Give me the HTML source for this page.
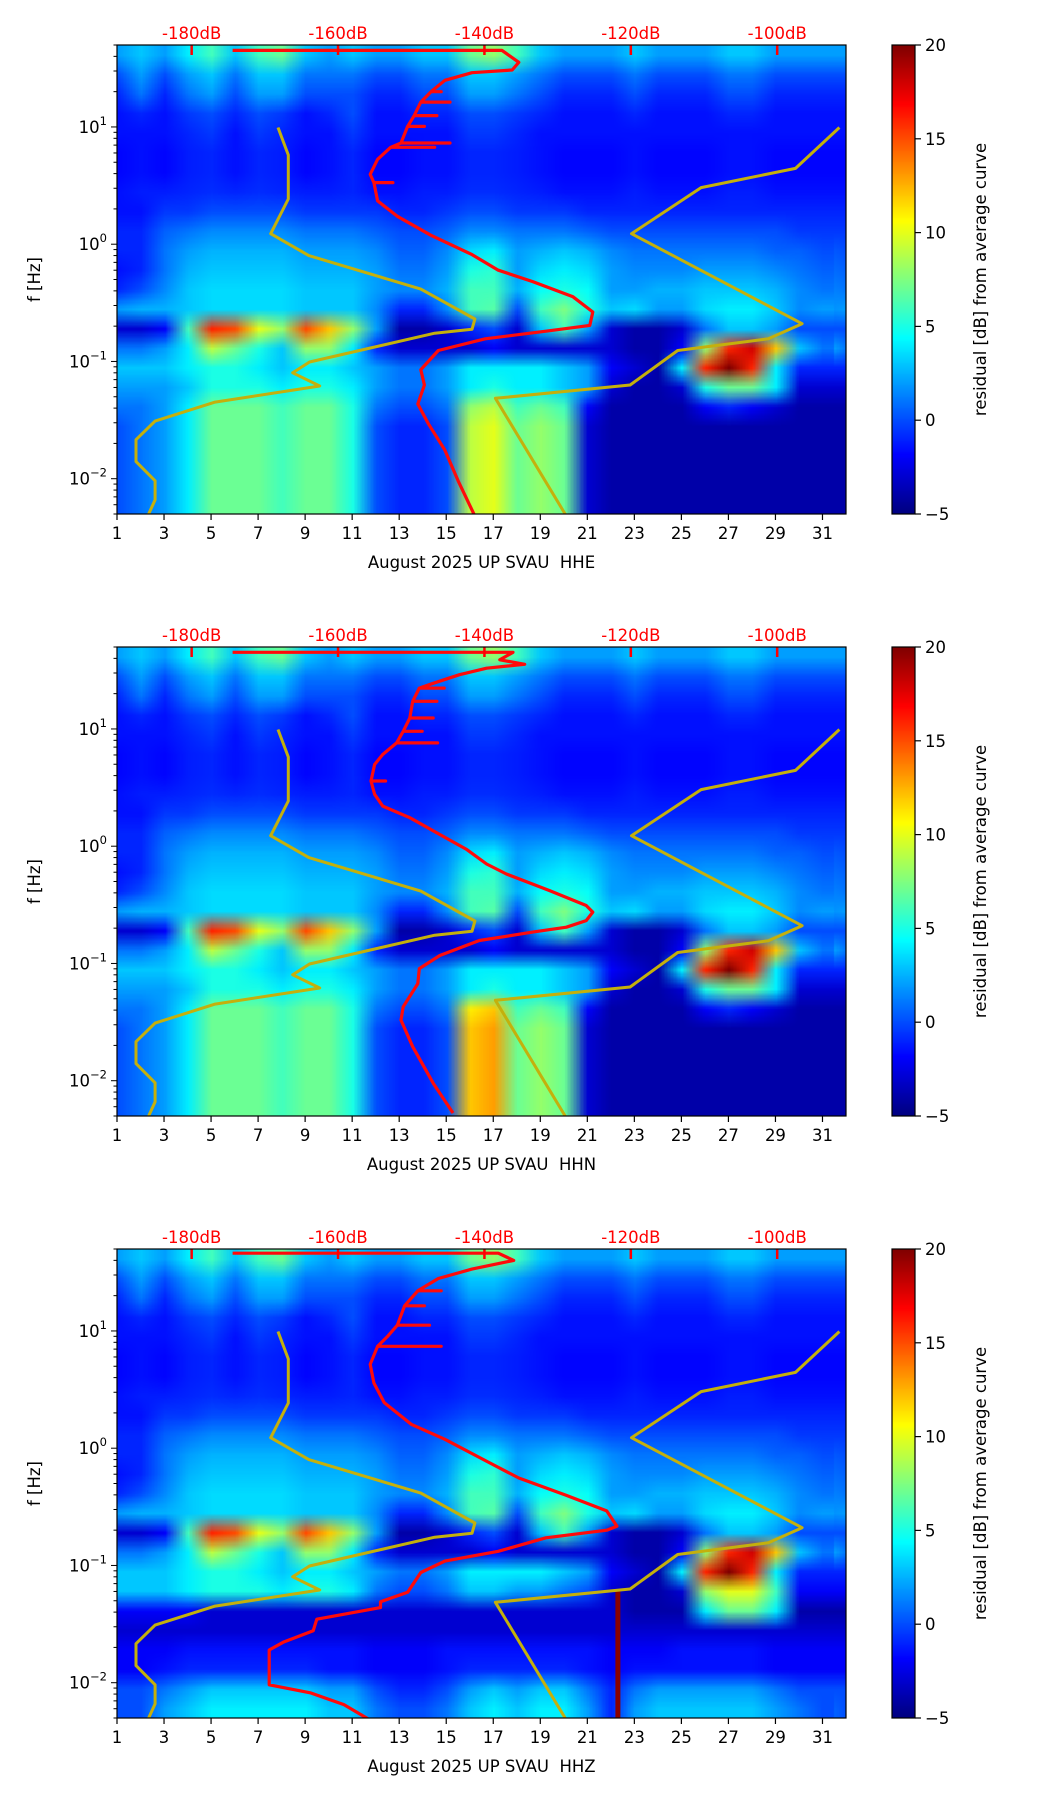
<!DOCTYPE html>
<html><head><meta charset="utf-8">
<style>
html,body{margin:0;padding:0;background:#fff;}
#root{position:relative;width:1052px;height:1806px;overflow:hidden;background:#fff;font-family:"DejaVu Sans","Liberation Sans",sans-serif;}
canvas{position:absolute;}
svg{position:absolute;left:0;top:0;}
</style></head>
<body>
<div id="root"></div>
<script>
// ---------- data ----------
const dayTicks = [1,3,5,7,9,11,13,15,17,19,21,23,25,27,29,31];
const dbTicks = [-180,-160,-140,-120,-100];
const cbTicks = [-5,0,5,10,15,20];
const yMajor = [-2,-1,0,1];
// residual grid rows (top 50 Hz -> bottom 0.005 Hz, 1/6 decade each), columns = days 1..31
const row0 = [2,3,2,4,6,3,6,7,3,2,3,2,2,3,3,7,8,6,3,2,2,2,3,2,2,2,3,3,2,2,2];
const row1 = [0,2,0,2,3,1,3,3,1,1,1,0,0,1,1,3,3,2,1,0,0,0,1,0,0,0,1,1,0,0,0];
const row2 = [-1,1,-1,1,2,0,2,2,0,0,0,-1,-1,0,0,2,2,1,0,-1,-1,-1,0,-1,-1,-1,0,0,-1,-1,-1];
const row3 = [-1.5,-1,-1.5,-0.5,0,-1,0,-0.5,-1.5,-1,0,-1.5,-1.5,-1,-1,0,0,-0.5,-1,-1.5,-1.5,-1.5,-1,-1.5,-1.5,-1.5,-1,-1,-1.5,-1.5,-1.5];
const row4 = [-1.5,-1.5,-1.5,-1,-0.5,-1.5,-0.5,-1,-1.5,-1.5,-0.5,-1.5,-1.5,-1.5,-1.5,-0.5,-0.5,-1,-1.5,-1.5,-1.5,-1.5,-1.5,-1.5,-1.5,-1.5,-1.5,-1.5,-1.5,-1.5,-1.5];
const row5 = [-1.8,-1.5,-1.8,-1.2,-1,-1.5,-1,-1.2,-1.8,-1.5,-1,-1.8,-1.8,-1.5,-1.5,-1,-1,-1.2,-1.5,-1.8,-1.8,-1.8,-1.5,-1.8,-1.8,-1.8,-1.5,-1.5,-1.8,-1.8,-1.8];
const row6 = [-1.8,-1.5,-1.8,-1.2,-1,-1.5,-1,-1.2,-1.8,-1.5,-1,-1.8,-1.8,-1.5,-1.5,-1,-1,-1.2,-1.5,-1.8,-1.8,-1.8,-1.5,-1.8,-1.8,-1.8,-1.5,-1.5,-1.8,-1.8,-1.8];
const row7 = [-1.5,-1.2,-1.2,-1,-0.8,-1,-0.8,-1,-1.2,-1.2,-1,-1.5,-1.5,-1.2,-1.2,-0.8,-0.8,-1,-1.2,-1.5,-1.5,-1.5,-1.2,-1.5,-1.5,-1.5,-1.2,-1.2,-1.5,-1.5,-1.5];
const row8 = [-1.5,-1.5,-0.5,-0.5,0,0,0,0,-0.5,-0.5,-0.5,-0.5,-1,-1,-0.5,0,0,-0.5,-0.5,-0.5,-1,-1,-1,-1,-1,-1,-1,-1,-1,-1,-1];
const row9 = [-1,-1,0.5,1,1.5,1.5,1.5,1.5,1,1,1,0.5,0,0,0.5,1.5,1.5,1,1,1,0.5,0,0,0,0,0,0,0,0,-0.5,-0.5];
const row10 = [-1,-1,1,2,2.5,2.5,2.5,2.5,2,2,2,1.5,0.5,0.5,1.5,3.5,4,2,2.5,3,2.5,1.5,1,1,1,1,1,1,0.5,0.5,0];
const row11 = [-1.5,-1,1,2.5,3,3,3,3,2.5,2.5,2.5,2,1,1,2,5,5.5,2,3.5,4,3.5,2,1.5,1.5,1.5,2,2,2,1.5,1,0.5];
const row12 = [-1,0,1.5,3,3.5,3.5,3.5,3.5,3,3,3,2,1.5,1.5,2.5,6,6,2.5,4.5,5,4.5,2,2,2.5,2.5,3,3,3,2.5,1.5,1];
const row13 = [2,2.5,2.5,3,3.5,3.5,3.5,3.5,3,3,3,1.5,-1,-1,1.5,6,6.5,0,6,7.5,5,3,3.5,2,2,3.5,4,4,3,1.5,2];
const row14 = [-3,-3,-2,6,16,15,10,8,15,12,8,2,-4,-4,-3,-1,0,-3,3,6,2,-3,-4,-4,-3,1,3,3,2,0,0];
const row15 = [1,1,2,4,9,7,5,3,8,8,4,-1,-3,-3,-3,-3,-2,-3,-3,-3,-3,-3,-4,-4,-2,8,16,18,12,3,1];
const row16 = [3,3,3,4,5,5,4,3,4,4,3,2,1,1,2,4,4,4,4,3,2,-2,-3,-4,4,16,20,16,4,-1,-1];
const row17 = [2,2,2,3,5,5,5,4,5,5,4,2,1,1,2,4,5,4,4,3,2,-3,-4,-4,-3,5,7,7,4,-3,-3];
const row18 = [1,1,2,4,7,7,7,6,7,7,5,1,0,0,1,8,9,6,7,6,-2,-4,-4,-4,-4,-2,-1,-2,-3,-4,-4];
const row19 = [0,1,2,4,7,7,7,6,7,7,5,0,-1,-1,0,9,10,7,8,7,-3,-4,-4,-4,-4,-4,-4,-4,-4,-4,-4];
const row20 = [0,1,2,4,7,7,7,6,7,7,5,0,-1,-1,0,9,10,7,8,7,-3,-4,-4,-4,-4,-4,-4,-4,-4,-4,-4];
const row21 = [0,1,2,4,7,7,7,6,7,7,5,0,-1,-1,0,9,10,7,8,7,-3,-4,-4,-4,-4,-4,-4,-4,-4,-4,-4];
const row22 = [0,1,2,4,7,7,7,6,7,7,5,0,-1,-1,0,9,10,7,8,7,-3,-4,-4,-4,-4,-4,-4,-4,-4,-4,-4];
const row23 = [0,1,2,4,7,7,7,6,7,7,5,0,-1,-1,0,9,10,7,8,7,-3,-4,-4,-4,-4,-4,-4,-4,-4,-4,-4];
// HHZ low-frequency rows
const zRow17 = [3,3,3,4,5,5,5,4,5,5,4,1,0,0,1,3,3,2,2,1,0,-3,-4,-4,-3,8,10,10,6,-2,-2];
const zRow18 = [-2,-2,-2,-2,-3,-3,-3,-3,-3,-3,-3,-3,-3,-3,-3,-3,-3,-3,-3,-3,-3,-3,-4,-4,-4,4,7,7,4,-4,-4];
const zRow19 = [-3,-3,-3,-3,-3,-3,-3,-3,-3,-3,-3,-3,-3,-3,-3,-3,-3,-3,-3,-3,-3,-3,-3,-3,-3,-3,-3,-3,-3,-3,-3];
const zRow20 = [-2,-2,-2,-1.5,-1.5,-1.5,-1.5,-1.5,-1.5,-1.5,-1.5,-2,-2,-2,-1.5,-1.5,-1.5,-1.5,-1.5,-1.5,-1.5,-2,-2,-2,-1.5,-1.5,-1.5,-1.5,-2,-2,-2];
const zRow21 = [-2,-2,-1.5,-1,-1,-1,-1,-1,-1,-1.5,-1.5,-2,-2,-2,-1.5,-1,-1,-1,-1,-1,-1.5,-2,-1.5,-1.5,-1.5,-1.5,-1.5,-1.5,-2,-2,-2];
const zRow22 = [0,0,1,2,3,3,3,3,3,2,2,0,-1,-1,0,2,3,2,3,3,1,-1,1,2,2,2,2,2,1,0,0];
const zRow23 = [0,0,2,3,4,4,4,4,4,3,3,1,0,0,1,3,4,3,4,4,2,-1,2,3,3,3,3,3,2,1,0];
const hhzLineDays = [22.3];
// noise model curves (dB, Hz)
const nlnmDb = [-168.2,-166.8,-166.8,-169.2,-164.0,-148.7,-141.3,-141.7,-146.8,-163.9,-166.2,-162.5,-176.8,-185.0,-187.6,-187.6,-185.0,-185.0,-186.0];
const nlnmF  = [9.9,5.77,2.43,1.23,0.80,0.414,0.230,0.188,0.174,0.099,0.080,0.0617,0.045,0.031,0.0215,0.014,0.0096,0.0066,0.0048];
const nhnmDb = [-91.5,-97.5,-110.4,-119.9,-96.6,-101.2,-113.6,-120.1,-138.5,-128.8];
const nhnmF  = [9.9,4.43,3.04,1.23,0.21,0.156,0.124,0.063,0.0485,0.0048];
// average PSD curves (dB, Hz)
const heDb = [-174.4,-137.6,-135.3,-136.2,-141.7,-145.4,-147.3,-145.9,-147.3,-148.7,-144.7,-148.7,-149.6,-146.5,-149.6,-150.5,-148.2,-150.5,-151.4,-144.7,-151.4,-152.8,-146.8,-152.8,-154.6,-155.6,-155.1,-152.5,-155.1,-154.6,-151.9,-147.3,-141.7,-138.1,-133.4,-127.9,-125.2,-125.6,-131.6,-139.9,-146.3,-148.7,-148.2,-149.1,-147.7,-145.4,-143.6,-141.3];
const heF  = [45,45,35.6,30.6,29,25,20,20,20,16.3,16.3,16.3,12.5,12.5,12.5,10.1,10.1,10.1,7.3,7.3,7.3,6.7,6.7,6.7,5.3,3.95,3.35,3.35,3.35,2.34,1.73,1.19,0.815,0.60,0.48,0.356,0.264,0.203,0.181,0.156,0.124,0.085,0.063,0.0434,0.0297,0.0175,0.0096,0.0048];
const hnDb = [-174.4,-136.1,-137.9,-134.5,-139.7,-143.4,-147.0,-148.9,-145.5,-148.9,-149.8,-146.5,-149.8,-150.2,-147.0,-150.2,-151.1,-148.5,-151.1,-152.0,-146.4,-152.0,-153.9,-155.0,-155.5,-153.5,-155.5,-155.0,-153.9,-150.2,-145.7,-142.5,-139.7,-137.0,-131.1,-126.1,-125.2,-126.1,-128.8,-133.4,-140.7,-146.1,-148.9,-149.1,-151.1,-151.4,-149.8,-147.0,-144.3];
const hnF  = [45.1,45.1,38.9,35.6,33,29,24.5,22.3,22.3,22.3,17.2,17.2,17.2,12.4,12.4,12.4,9.55,9.55,9.55,7.6,7.6,7.6,6.05,4.98,3.6,3.6,3.6,2.77,2.2,1.75,1.22,0.944,0.705,0.579,0.418,0.312,0.274,0.232,0.204,0.185,0.157,0.117,0.0904,0.0673,0.0427,0.0329,0.0195,0.00953,0.0053];
const hzDb = [-174.4,-138.1,-136.0,-141.7,-146.3,-149.1,-145.9,-149.1,-150.9,-148.2,-150.9,-151.9,-147.5,-151.9,-153.3,-154.6,-145.9,-154.6,-155.6,-155.1,-153.7,-150.0,-145.4,-139.9,-135.3,-128.8,-123.3,-121.9,-123.3,-131.6,-138.1,-145.4,-148.7,-150.5,-154.2,-154.2,-162.9,-163.4,-167.5,-169.4,-169.4,-163.8,-159.2,-155.6];
const hzF  = [46,46,40,33.7,28,22,22,22,16.4,16.4,16.4,11.2,11.2,11.2,8.9,7.4,7.4,7.4,5.2,3.6,2.45,1.6,1.19,0.785,0.557,0.396,0.292,0.216,0.2,0.172,0.132,0.109,0.087,0.059,0.049,0.0437,0.0348,0.0277,0.0221,0.019,0.0096,0.0082,0.0065,0.0048];

// ---------- layout ----------
const L = 117, W = 729, H = 469;
const panelTops = [45, 647, 1249];
const dayMin = 1, dayMax = 32;
const logMax = Math.log10(50), logMin = Math.log10(0.005);
const dbMin = -190.2, dbMax = -90.6;
const vMin = -5, vMax = 20;
const CBX = 892, CBW = 23;
const NS = 'http://www.w3.org/2000/svg';

function xDay(d){ return L + (d - dayMin) / (dayMax - dayMin) * W; }
function yFreq(f, T){ return T + (logMax - Math.log10(f)) / (logMax - logMin) * H; }
function xDb(db){ return L + (db - dbMin) / (dbMax - dbMin) * W; }
function yVal(v, T){ return T + H - (v - vMin) / (vMax - vMin) * H; }
function jet(t){
  t = Math.max(0, Math.min(1, t));
  const c = x => Math.round(255 * Math.max(0, Math.min(1, x)));
  return [c(1.5 - Math.abs(4*t - 3)), c(1.5 - Math.abs(4*t - 2)), c(1.5 - Math.abs(4*t - 1))];
}
function el(tag, attrs, parent){
  const e = document.createElementNS(NS, tag);
  for (const k in attrs) e.setAttribute(k, attrs[k]);
  if (parent) parent.appendChild(e);
  return e;
}

const baseGrid = [row0,row1,row2,row3,row4,row5,row6,row7,row8,row9,row10,row11,row12,row13,row14,row15,row16,row17,row18,row19,row20,row21,row22,row23];
const hnGrid = baseGrid.map((r,i) => i >= 18 ? r.map((v,c) => (c === 15 || c === 16) ? v + 3 : v) : r.slice());
const hzGrid = baseGrid.slice(0,17).concat([zRow17,zRow18,zRow19,zRow20,zRow21,zRow22,zRow23]);

const panels = [
  {T: panelTops[0], grid: baseGrid, db: heDb, f: heF, label: 'August 2025 UP SVAU\u00a0 HHE', lines: [], key:'hhe'},
  {T: panelTops[1], grid: hnGrid, db: hnDb, f: hnF, label: 'August 2025 UP SVAU\u00a0 HHN', lines: [], key:'hhn'},
  {T: panelTops[2], grid: hzGrid, db: hzDb, f: hzF, label: 'August 2025 UP SVAU\u00a0 HHZ', lines: hhzLineDays, key:'hhz'}
];

const root = document.getElementById('root');
const svg = el('svg', {width:1052, height:1806, viewBox:'0 0 1052 1806'});



panels.forEach((p, pi) => {
  const T = p.T;
  const nR = p.grid.length, nC = p.grid[0].length;
  const small = document.createElement('canvas');
  small.width = nC; small.height = nR;
  const sctx = small.getContext('2d');
  const img = sctx.createImageData(nC, nR);
  for (let r = 0; r < nR; r++) for (let c = 0; c < nC; c++){
    const col = jet((p.grid[r][c] - vMin) / (vMax - vMin));
    const o = (r*nC + c) * 4;
    img.data[o] = col[0]; img.data[o+1] = col[1]; img.data[o+2] = col[2]; img.data[o+3] = 255;
  }
  sctx.putImageData(img, 0, 0);
  const cv = document.createElement('canvas');
  cv.width = W; cv.height = H;
  cv.style.left = L + 'px'; cv.style.top = T + 'px';
  
  
  const ctx = cv.getContext('2d');
  ctx.imageSmoothingEnabled = true;
  // column c centred on day c+1 (cells span day c+0.5 .. c+1.5)
  const cellW = W / (dayMax - dayMin);
  ctx.drawImage(small, 0, 0, nC, nR, xDay(0.5) - L, 0, cellW * nC, H);
  ctx.drawImage(small, nC-1, 0, 1, nR, xDay(31.5) - L, 0, cellW, H);
  root.appendChild(cv);

  const cb = document.createElement('canvas');
  cb.width = CBW; cb.height = H;
  cb.style.left = CBX + 'px'; cb.style.top = T + 'px';
  
  
  const cctx = cb.getContext('2d');
  for (let y = 0; y < H; y++){
    const col = jet(1 - y / (H-1));
    cctx.fillStyle = 'rgb(' + col.join(',') + ')';
    cctx.fillRect(0, y, CBW, 1);
  }
  root.appendChild(cb);

  const g = el('g', {}, svg);
  
  
  const clipId = 'clip' + pi;
  const cp = el('clipPath', {id: clipId}, g);
  el('rect', {x:L, y:T, width:W, height:H}, cp);
  const inner = el('g', {'clip-path':'url(#'+clipId+')'}, g);

  p.lines.forEach(d => {
    const ln = el('rect', {x: xDay(d) - 2.5, y: yFreq(0.06, T), width: 5, height: T + H - yFreq(0.06, T), fill:'#8a0000'}, inner);
    
    
  });

  const pathOf = (dbs, fs) => dbs.map((d,i) => (i ? 'L' : 'M') + xDb(d).toFixed(1) + ' ' + yFreq(fs[i], T).toFixed(1)).join(' ');
  const lo = el('path', {d: pathOf(nlnmDb, nlnmF), fill:'none', stroke:'#c4b00c', 'stroke-width':3, 'stroke-linejoin':'round'}, inner);
  
  
  const hi = el('path', {d: pathOf(nhnmDb, nhnmF), fill:'none', stroke:'#c4b00c', 'stroke-width':3, 'stroke-linejoin':'round'}, inner);
  
  
  const red = el('path', {d: pathOf(p.db, p.f), fill:'none', stroke:'#ff0a0a', 'stroke-width':3.2, 'stroke-linejoin':'round'}, inner);
  
  

  dbTicks.forEach(d => {
    const x = xDb(d);
    el('line', {x1:x, y1:T, x2:x, y2:T+10, stroke:'#ff0000', 'stroke-width':2.5}, g);
    const t = el('text', {x:x, y:T-6, 'text-anchor':'middle', 'font-size':16.5, fill:'#ff0000'}, g);
    t.textContent = d + 'dB';
    
    
  });

  const fr = el('rect', {x:L, y:T, width:W, height:H, fill:'none', stroke:'#000', 'stroke-width':1.2}, g);
  
  

  dayTicks.forEach(d => {
    const x = xDay(d);
    el('line', {x1:x, y1:T+H, x2:x, y2:T+H+6, stroke:'#000', 'stroke-width':1.2}, g);
    const t = el('text', {x:x, y:T+H+25, 'text-anchor':'middle', 'font-size':16.5, fill:'#000'}, g);
    t.textContent = d;
    
    
  });
  const xl = el('text', {x: L + W/2, y: T+H+54, 'text-anchor':'middle', 'font-size':16.5, fill:'#000'}, g);
  xl.textContent = p.label;
  
  

  for (let e = -3; e <= 1; e++){
    for (let m = 1; m <= 9; m++){
      const f = m * Math.pow(10, e);
      if (f < 0.005 || f > 50) continue;
      const y = yFreq(f, T);
      el('line', {x1:L, y1:y, x2:L-(m===1?6:3.5), y2:y, stroke:'#000', 'stroke-width':1}, g);
    }
  }
  yMajor.forEach(e => {
    const y = yFreq(Math.pow(10, e), T);
    const t = el('text', {x:L-10, y:y+6, 'text-anchor':'end', 'font-size':16.5, fill:'#000'}, g);
    const a = el('tspan', {}, t); a.textContent = '10';
    const b = el('tspan', {dy:-8, 'font-size':11.5}, t); b.textContent = e < 0 ? '\u2212' + (-e) : '' + e;
    
    
  });
  const yl = el('text', {x:0, y:0, 'text-anchor':'middle', 'font-size':16.5, fill:'#000', transform:'translate(40 ' + (T+H/2) + ') rotate(-90)'}, g);
  yl.textContent = 'f [Hz]';
  
  

  el('rect', {x:CBX, y:T, width:CBW, height:H, fill:'none', stroke:'#000', 'stroke-width':1.2}, g);
  cbTicks.forEach(v => {
    const y = yVal(v, T);
    el('line', {x1:CBX+CBW, y1:y, x2:CBX+CBW+6, y2:y, stroke:'#000', 'stroke-width':1.2}, g);
    const t = el('text', {x:CBX+CBW+10, y:y+6, 'font-size':16.5, fill:'#000'}, g);
    t.textContent = v < 0 ? '\u2212' + (-v) : '' + v;
    
    
  });
  const cl = el('text', {x:0, y:0, 'text-anchor':'middle', 'font-size':16.5, fill:'#000', transform:'translate(986 ' + (T+H/2) + ') rotate(-90)'}, g);
  cl.textContent = 'residual [dB] from average curve';
  
  
});
root.appendChild(svg);
</script>
</body></html>
